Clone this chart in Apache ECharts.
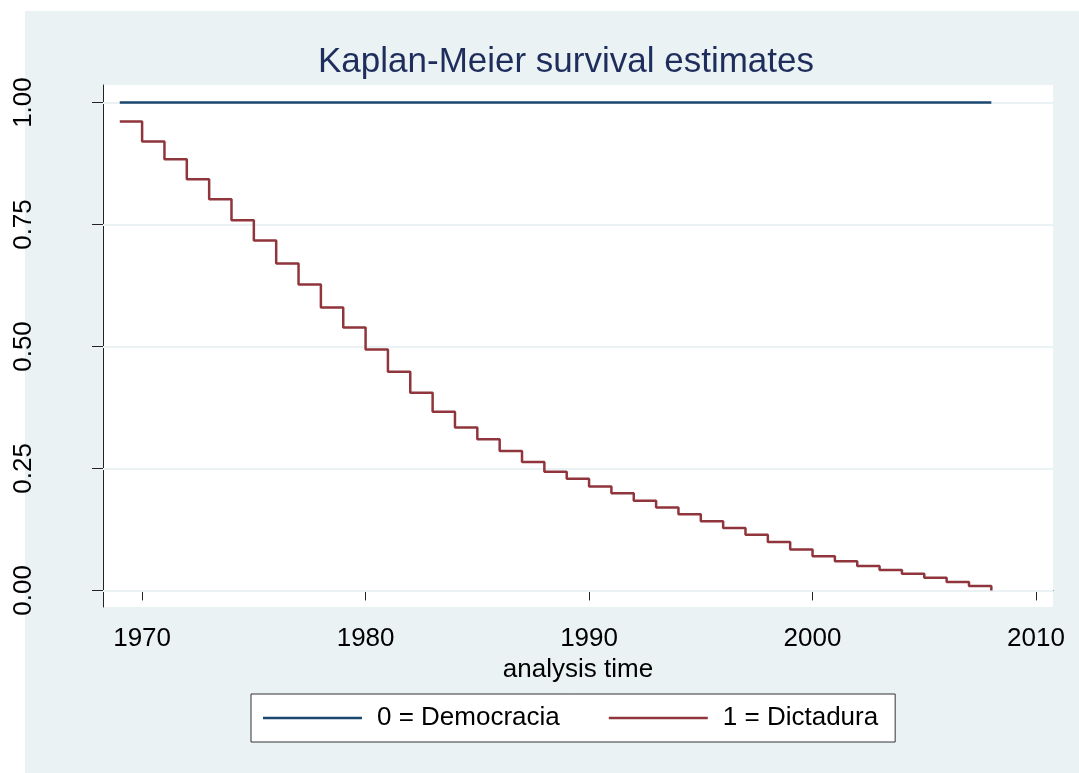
<!DOCTYPE html>
<html>
<head>
<meta charset="utf-8">
<script src="https://cdn.jsdelivr.net/npm/echarts@6/dist/echarts.min.js"></script>
<style>
  html, body { margin: 0; padding: 0; background: #fff; }
  #main { width: 1079px; height: 773px; }
</style>
</head>
<body>
<div id="main"></div>
<script>
// años del análisis
var years = [1969, 1970, 1971, 1972, 1973, 1974, 1975, 1976, 1977, 1978,
             1979, 1980, 1981, 1982, 1983, 1984, 1985, 1986, 1987, 1988,
             1989, 1990, 1991, 1992, 1993, 1994, 1995, 1996, 1997, 1998,
             1999, 2000, 2001, 2002, 2003, 2004, 2005, 2006, 2007, 2008];
// 1 = Dictadura
var dictadura = [0.961, 0.920, 0.884, 0.843, 0.802, 0.759, 0.717, 0.670, 0.627, 0.580,
                 0.539, 0.494, 0.448, 0.405, 0.366, 0.334, 0.310, 0.286, 0.263, 0.243,
                 0.229, 0.213, 0.199, 0.184, 0.170, 0.156, 0.142, 0.128, 0.114, 0.099,
                 0.084, 0.070, 0.060, 0.050, 0.042, 0.034, 0.026, 0.017, 0.009, 0.000];
// 0 = Democracia
var demoYears = [1969, 2008];
var democracia = [1, 1];

var xTicks = [1970, 1980, 1990, 2000, 2010];
var yTicks = [0, 0.25, 0.5, 0.75, 1];

var font = "'Liberation Sans', Arial, sans-serif";

function pairs(xs, ys) {
  return xs.map(function (x, i) { return [x, ys[i]]; });
}

var myChart = echarts.init(document.getElementById('main'));
var option = {
  animation: false,
  graphic: [{
    type: 'rect',
    z: -10,
    shape: { x: 25, y: 11, width: 1054, height: 762 },
    style: { fill: '#eaf2f3' }
  }],
  title: {
    text: 'Kaplan-Meier survival estimates',
    left: 561,
    top: 40,
    textAlign: 'center',
    textStyle: { fontFamily: font, fontSize: 35, fontWeight: 'normal', color: '#1e2d5c' }
  },
  grid: {
    left: 103, right: 26, top: 85, bottom: 166,
    show: true, backgroundColor: '#fff', borderWidth: 0
  },
  legend: {
    data: ['0 = Democracia', '1 = Dictadura'],
    left: 251,
    top: 694,
    orient: 'horizontal',
    padding: [11, 17, 11, 12],
    itemGap: 49,
    itemWidth: 99,
    itemHeight: 2.5,
    icon: 'rect',
    backgroundColor: '#fff',
    borderColor: '#333',
    borderWidth: 1,
    borderRadius: 0,
    textStyle: { fontFamily: font, fontSize: 26, color: '#000', padding: [0, 0, 0, 10] }
  },
  xAxis: {
    type: 'value',
    min: 1968.25,
    max: 2010.76,
    name: 'analysis time',
    nameLocation: 'middle',
    nameGap: 45,
    nameTextStyle: { fontFamily: font, fontSize: 26, color: '#000' },
    axisLine: { show: true, lineStyle: { color: '#222', width: 1 } },
    axisTick: { show: true, length: 10, customValues: xTicks, lineStyle: { color: '#222' } },
    axisLabel: {
      customValues: xTicks, margin: 19, fontFamily: font, fontSize: 26, color: '#000',
      formatter: function (v) { return String(v); }
    },
    splitLine: { show: false }
  },
  yAxis: {
    type: 'value',
    min: -0.034,
    max: 1.036,
    axisLine: { show: true, lineStyle: { color: '#222', width: 1 } },
    axisTick: { show: true, length: 11, customValues: yTicks, lineStyle: { color: '#222' } },
    axisLabel: {
      customValues: yTicks,
      rotate: 90,
      margin: 66,
      fontFamily: font, fontSize: 26, color: '#000',
      formatter: function (v) { return v.toFixed(2); }
    },
    splitLine: { show: false }
  },
  series: [{
    name: 'grid',
    type: 'line',
    data: [],
    z: 1,
    markLine: {
      z: 1,
      silent: true,
      symbol: 'none',
      label: { show: false },
      lineStyle: { color: '#eaf2f3', width: 2, type: 'solid' },
      data: yTicks.map(function (v) { return { yAxis: v }; })
    }
  }, {
    name: '0 = Democracia',
    type: 'line',
    z: 3,
    data: pairs(demoYears, democracia),
    symbol: 'none',
    color: '#1a476f',
    lineStyle: { color: '#1a476f', width: 2.5 }
  }, {
    name: '1 = Dictadura',
    type: 'line',
    z: 3,
    step: 'end',
    data: pairs(years, dictadura),
    symbol: 'none',
    color: '#90353b',
    lineStyle: { color: '#90353b', width: 2.5 }
  }]
};
myChart.setOption(option);
</script>
</body>
</html>
